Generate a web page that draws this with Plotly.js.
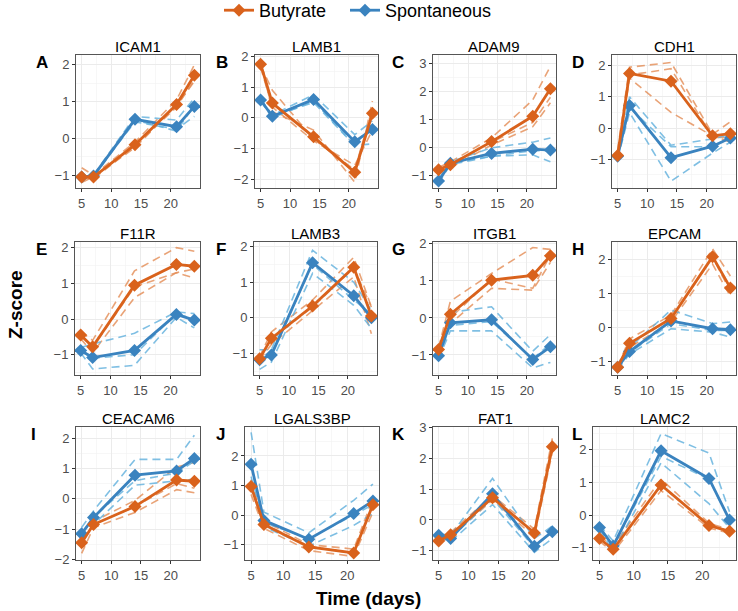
<!DOCTYPE html>
<html>
<head>
<meta charset="utf-8">
<script src="https://cdn.plot.ly/plotly-3.0.1.min.js"></script>
<style>
  body { margin: 0; background: #fff; overflow: hidden; }
  #chart { width: 738px; height: 619px; margin-top: -8px; }
</style>
</head>
<body>
<div id="chart"></div>
<script>
var days = [5, 7, 14, 21, 24];
var genes = ["ICAM1", "LAMB1", "ADAM9", "CDH1", "F11R", "LAMB3", "ITGB1", "EPCAM",
             "CEACAM6", "LGALS3BP", "FAT1", "LAMC2"];
var letters = ["A", "B", "C", "D", "E", "F", "G", "H", "I", "J", "K", "L"];

// mean z-scores, one row per gene
var butyrateMean = [
  [-1.05, -1.05, -0.17, 0.92, 1.72],
  [1.75, 0.48, -0.62, -1.78, 0.15],
  [-0.78, -0.6, 0.22, 1.12, 2.1],
  [-0.88, 1.75, 1.5, -0.25, -0.18],
  [-0.45, -0.78, 0.95, 1.53, 1.48],
  [-1.15, -0.58, 0.33, 1.42, 0.05],
  [-0.85, 0.1, 1.02, 1.15, 1.68],
  [-1.18, -0.48, 0.25, 2.07, 1.15],
  [-1.45, -0.85, -0.25, 0.62, 0.58],
  [0.97, -0.32, -1.08, -1.28, 0.35],
  [-0.68, -0.48, 0.72, -0.42, 2.38],
  [-0.72, -1.05, 0.92, -0.32, -0.5]
];
var spontaneousMean = [
  [-1.05, -1.02, 0.52, 0.32, 0.87],
  [0.58, 0.05, 0.6, -0.78, -0.38],
  [-1.18, -0.55, -0.2, -0.05, -0.08],
  [-0.9, 0.72, -0.95, -0.58, -0.32],
  [-0.88, -1.08, -0.88, 0.13, -0.03],
  [-1.18, -1.05, 1.55, 0.62, 0.0],
  [-1.02, -0.13, -0.05, -1.12, -0.78],
  [-1.18, -0.72, 0.18, -0.05, -0.08],
  [-1.15, -0.62, 0.78, 0.92, 1.33],
  [1.72, -0.18, -0.82, 0.05, 0.48],
  [-0.5, -0.6, 0.85, -0.85, -0.38],
  [-0.38, -0.95, 1.97, 1.12, -0.15]
];

// replicates
var butyrateRep1 = [
  [-0.8, -1.0, -0.1, 1.05, 2.0],
  [1.9, 0.2, -0.4, -2.1, 0.55],
  [-0.7, -0.5, 0.35, 1.7, 2.9],
  [-0.7, 1.95, 2.1, -0.2, 0.2],
  [-0.35, -0.6, 1.35, 2.0, 1.9],
  [-1.1, -0.4, 0.5, 1.7, 0.3],
  [-0.8, 0.45, 1.2, 1.9, 1.85],
  [-1.15, -0.35, 0.35, 2.3, 1.5],
  [-1.1, -0.75, -0.05, 1.05, 1.2],
  [1.2, -0.2, -1.0, -1.15, 0.55],
  [-0.6, -0.4, 0.8, -0.3, 2.65],
  [-0.65, -0.95, 1.1, -0.25, -0.45]
];
var butyrateRep2 = [
  [-1.1, -1.1, -0.2, 0.85, 1.6],
  [1.7, 0.9, -0.7, -1.7, 0.3],
  [-0.8, -0.6, 0.2, 0.9, 1.8],
  [-0.9, 1.7, 1.9, -0.3, -0.3],
  [-0.45, -0.8, 0.9, 1.3, 1.4],
  [-1.15, -0.6, 0.3, 1.4, 0.3],
  [-0.85, 0.0, 1.05, 0.8, 1.7],
  [-1.2, -0.5, 0.25, 2.05, 1.05],
  [-1.45, -0.85, -0.25, 0.5, 0.35],
  [1.0, -0.3, -1.05, -1.3, 0.4],
  [-0.7, -0.5, 0.7, -0.4, 2.3],
  [-0.72, -1.05, 0.9, -0.3, -0.5]
];
var butyrateRep3 = [
  [-1.2, -1.05, -0.25, 0.9, 1.55],
  [1.65, 0.35, -0.75, -1.55, -0.4],
  [-0.85, -0.7, 0.1, 0.75, 1.6],
  [-1.05, 1.6, 0.5, -0.25, -0.45],
  [-0.55, -0.95, 0.6, 1.3, 1.15],
  [-1.2, -0.75, 0.2, 1.15, -0.45],
  [-0.9, -0.15, 0.8, 0.75, 1.5],
  [-1.2, -0.6, 0.15, 1.85, 0.9],
  [-1.8, -0.95, -0.45, 0.3, 0.2],
  [0.7, -0.45, -1.2, -1.4, 0.1],
  [-0.75, -0.55, 0.65, -0.55, 2.2],
  [-0.8, -1.15, 0.75, -0.4, -0.55]
];
var spontaneousRep1 = [
  [-1.1, -1.0, 0.6, 0.5, 1.1],
  [0.6, 0.1, 0.75, -0.55, -0.1],
  [-1.1, -0.5, 0.0, 0.2, 0.35],
  [-0.8, 1.0, -0.55, -0.35, -0.2],
  [-0.8, -0.7, -0.4, 0.2, 0.15],
  [-0.9, -0.9, 1.9, 1.0, 0.2],
  [-0.9, 0.15, 0.3, -0.9, -0.45],
  [-1.1, -0.6, 0.5, 0.1, 0.15],
  [-0.95, -0.4, 1.3, 1.3, 2.1],
  [2.8, 0.1, -0.6, 0.5, 1.05],
  [-0.45, -0.5, 1.35, -0.6, -0.2],
  [-0.3, -0.8, 2.5, 1.9, 0.1]
];
var spontaneousRep2 = [
  [-1.0, -1.05, 0.5, 0.2, 0.9],
  [0.55, 0.0, 0.55, -0.9, -0.2],
  [-1.2, -0.55, -0.3, -0.1, -0.1],
  [-0.9, 0.65, -0.6, -0.6, -0.3],
  [-0.9, -1.1, -1.0, 0.15, 0.0],
  [-1.2, -1.0, 1.5, 0.5, 0.1],
  [-1.05, -0.2, -0.1, -1.1, -0.7],
  [-1.2, -0.75, 0.1, -0.1, -0.1],
  [-1.15, -0.6, 0.6, 0.85, 1.25],
  [1.3, -0.25, -0.8, 0.0, 0.35],
  [-0.5, -0.6, 0.7, -0.9, -0.35],
  [-0.4, -0.95, 1.8, 1.1, -0.15]
];
var spontaneousRep3 = [
  [-1.05, -1.0, 0.45, 0.25, 0.6],
  [0.6, 0.05, 0.5, -0.9, -0.85],
  [-1.25, -0.6, -0.3, -0.25, -0.5],
  [-1.0, 0.5, -1.7, -0.8, -0.45],
  [-0.95, -1.4, -1.3, 0.05, -0.25],
  [-1.45, -1.25, 1.25, 0.35, -0.3],
  [-1.1, -0.35, -0.35, -1.35, -1.2],
  [-1.25, -0.8, -0.05, -0.15, -0.3],
  [-1.35, -0.85, 0.45, 0.6, 0.65],
  [1.05, -0.4, -1.05, -0.35, 0.05],
  [-0.55, -0.7, 0.5, -1.05, -0.6],
  [-0.45, -1.1, 1.6, 0.35, -0.4]
];

// panel boxes in page pixels [left, right, top, bottom] and y ranges
var boxes = [
  [76, 200, 55, 188], [255, 378, 55, 188], [433, 556, 55, 188], [612, 736, 55, 188],
  [75, 200, 242, 375], [254, 377, 242, 375], [433, 556, 242, 375], [612, 736, 242, 375],
  [76, 200, 427, 560], [245, 379, 427, 560], [433, 558, 427, 560], [593, 736, 427, 560]
];
var yRanges = [
  [-1.35, 2.27], [-2.29, 2.05], [-1.43, 3.3], [-1.92, 2.34],
  [-1.57, 2.16], [-1.61, 2.13], [-1.54, 2.05], [-1.41, 2.5],
  [-2.02, 2.37], [-1.52, 2.98], [-1.3, 3.02], [-1.38, 2.7]
];
var letterX = [42, 222, 398, 578, 41, 221, 398, 578, 33, 220, 398, 577];

// chart div is 8px taller and pulled up 8px so the legend can sit near the top edge
var OFF = 8;
var W = 738, H = 611 + OFF;
function py(y) { return 1 - (y + OFF) / H; }

var orange = "#D9621C", blue = "#3A83BF";
var orangeRep = "rgba(228,140,85,0.8)", blueRep = "rgba(95,175,220,0.8)";

var legendBase = {orientation: "h", xanchor: "left", y: 1, yanchor: "top",
                  font: {size: 18, color: "#000"}, itemwidth: 30, bgcolor: "rgba(0,0,0,0)"};

var traces = [];
var layout = {
  width: W, height: H,
  margin: {l: 0, r: 0, t: 0, b: 0},
  paper_bgcolor: "white", plot_bgcolor: "white",
  font: {family: "Liberation Sans, Arial, sans-serif", color: "#4D4D4D"},
  showlegend: true,
  legend: Object.assign({x: 219 / W}, legendBase),
  legend2: Object.assign({x: 345 / W}, legendBase),
  annotations: []
};

genes.forEach(function(g, i) {
  var n = i === 0 ? "" : String(i + 1);
  var xa = "x" + n, ya = "y" + n;
  var b = boxes[i];

  var reps = [
    [butyrateRep1, orangeRep], [butyrateRep2, orangeRep], [butyrateRep3, orangeRep],
    [spontaneousRep1, blueRep], [spontaneousRep2, blueRep], [spontaneousRep3, blueRep]
  ];
  reps.forEach(function(r) {
    traces.push({
      x: days, y: r[0][i], xaxis: xa, yaxis: ya, type: "scatter", mode: "lines",
      line: {color: r[1], width: 1.6, dash: "8px,5px"}, showlegend: false, hoverinfo: "skip"
    });
  });
  traces.push({
    x: days, y: spontaneousMean[i], xaxis: xa, yaxis: ya, type: "scatter", mode: "lines+markers",
    name: "Spontaneous", legend: "legend2", showlegend: i === 0,
    line: {color: blue, width: 2.8}, marker: {symbol: "diamond", size: 10, color: blue}
  });
  traces.push({
    x: days, y: butyrateMean[i], xaxis: xa, yaxis: ya, type: "scatter", mode: "lines+markers",
    name: "Butyrate", legend: "legend", showlegend: i === 0,
    line: {color: orange, width: 2.8}, marker: {symbol: "diamond", size: 10, color: orange}
  });

  layout["xaxis" + n] = {
    domain: [b[0] / W, b[1] / W], anchor: ya, range: [4.05, 24.95],
    tickvals: [5, 10, 15, 20], ticks: "outside", ticklen: 3, tickcolor: "#333",
    tickfont: {size: 13, color: "#4D4D4D"},
    showgrid: true, gridcolor: "#EBEBEB", gridwidth: 1,
    minor: {tickvals: [7.5, 12.5, 17.5, 22.5], showgrid: true, gridcolor: "#F2F2F2", gridwidth: 0.6},
    showline: true, mirror: true, linecolor: "#555", linewidth: 1, zeroline: false
  };
  layout["yaxis" + n] = {
    domain: [py(b[3]), py(b[2])], anchor: xa, range: yRanges[i],
    dtick: 1, tick0: 0, ticks: "outside", ticklen: 3, tickcolor: "#333",
    tickfont: {size: 13, color: "#4D4D4D"}, tickformat: "d",
    showgrid: true, gridcolor: "#EBEBEB", gridwidth: 1,
    minor: {dtick: 0.5, tick0: 0, showgrid: true, gridcolor: "#F2F2F2", gridwidth: 0.6},
    showline: true, mirror: true, linecolor: "#555", linewidth: 1, zeroline: false
  };

  layout.annotations.push({
    text: g, xref: "paper", yref: "paper", x: (b[0] + b[1]) / 2 / W, y: py(b[2] - 9),
    xanchor: "center", yanchor: "middle", showarrow: false, font: {size: 15, color: "#000"}
  });
  layout.annotations.push({
    text: "<b>" + letters[i] + "</b>", xref: "paper", yref: "paper",
    x: letterX[i] / W, y: py(b[2] + 7),
    xanchor: "center", yanchor: "middle", showarrow: false, font: {size: 17, color: "#000"}
  });
});

layout.annotations.push({
  text: "<b>Z-score</b>", xref: "paper", yref: "paper", x: 15 / W, y: py(305),
  textangle: -90, xanchor: "center", yanchor: "middle", showarrow: false,
  font: {size: 19, color: "#000"}
});
layout.annotations.push({
  text: "<b>Time (days)</b>", xref: "paper", yref: "paper", x: 368 / W, y: py(598),
  xanchor: "center", yanchor: "middle", showarrow: false,
  font: {size: 19, color: "#000"}
});

Plotly.newPlot("chart", traces, layout, {displayModeBar: false, staticPlot: true});
</script>
</body>
</html>
